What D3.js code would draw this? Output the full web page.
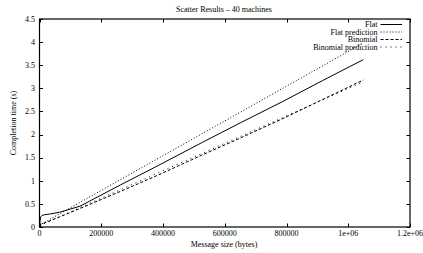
<!DOCTYPE html>
<html>
<head>
<meta charset="utf-8">
<script src="https://cdn.jsdelivr.net/npm/d3@7"></script>
<style>
html,body{margin:0;padding:0;background:#fff;}
svg{display:block;}
text{font-family:"Liberation Serif","DejaVu Serif",serif;font-size:8px;fill:#000;}
</style>
</head>
<body>
<svg id="chart" width="423" height="253"></svg>
<script>
const title = "Scatter Results – 40 machines";
const xLabel = "Message size (bytes)";
const yLabel = "Completion time (s)";
const xTicks = [0, 200000, 400000, 600000, 800000, 1000000, 1200000];
const xTickLabels = ["0", "200000", "400000", "600000", "800000", "1e+06", "1.2e+06"];
const yTicks = [0, 0.5, 1, 1.5, 2, 2.5, 3, 3.5, 4, 4.5];
const yTickLabels = ["0", "0.5", "1", "1.5", "2", "2.5", "3", "3.5", "4", "4.5"];

const sizes = [1, 2048, 4096, 8192, 16384, 32768, 65536, 131072, 262144, 393216, 524288, 655360, 786432, 917504, 1048576];
const flat = [0.02, 0.15, 0.22, 0.25, 0.265, 0.28, 0.32, 0.45, 0.91, 1.36, 1.82, 2.27, 2.71, 3.17, 3.62];
const binomial = [0.02, 0.04, 0.05, 0.07, 0.09, 0.13, 0.22, 0.40, 0.77, 1.15, 1.55, 1.94, 2.34, 2.76, 3.18];
const predSizes = [0, 1048576];
const flatPrediction = [0.04, 3.98];
const binomialPrediction = [0.03, 3.14];

const seriesNames = ["Flat", "Flat prediction", "Binomial", "Binomial prediction"];

const svg = d3.select("#chart");
const m = {left: 39.5, right: 410, top: 19, bottom: 227};
const x = d3.scaleLinear().domain([0, 1200000]).range([m.left, m.right]);
const y = d3.scaleLinear().domain([0, 4.5]).range([m.bottom, m.top]);

const styles = [
  {dash: null},
  {dash: "1,2"},
  {dash: "3,2"},
  {dash: "1,4"}
];

const series = [
  sizes.map((s, i) => [s, flat[i]]),
  predSizes.map((s, i) => [s, flatPrediction[i]]),
  sizes.map((s, i) => [s, binomial[i]]),
  predSizes.map((s, i) => [s, binomialPrediction[i]])
];

const line = d3.line().x(d => x(d[0])).y(d => y(d[1]));

series.forEach((data, i) => {
  svg.append("path")
    .attr("d", line(data))
    .attr("fill", "none")
    .attr("stroke", "#000")
    .attr("stroke-width", 1)
    .attr("stroke-dasharray", styles[i].dash);
});

// ticks (inward, mirrored)
const tl = 3.5;
const tg = svg.append("g").attr("stroke", "#000").attr("stroke-width", 1);
xTicks.forEach(t => {
  const px = Math.round(x(t)) + 0.5;
  tg.append("line").attr("x1", px).attr("x2", px).attr("y1", m.bottom).attr("y2", m.bottom - tl);
  tg.append("line").attr("x1", px).attr("x2", px).attr("y1", m.top).attr("y2", m.top + tl);
});
yTicks.forEach(t => {
  const py = Math.round(y(t)) + 0.5;
  tg.append("line").attr("x1", m.left).attr("x2", m.left + tl).attr("y1", py).attr("y2", py);
  tg.append("line").attr("x1", m.right).attr("x2", m.right - tl).attr("y1", py).attr("y2", py);
});

// border
svg.append("rect")
  .attr("x", m.left).attr("y", m.top)
  .attr("width", m.right - m.left).attr("height", m.bottom - m.top)
  .attr("fill", "none").attr("stroke", "#000").attr("stroke-width", 1.2);

// tick labels
xTicks.forEach((t, i) => {
  svg.append("text").attr("x", x(t)).attr("y", 236)
    .attr("text-anchor", "middle").text(xTickLabels[i]);
});
yTicks.forEach((t, i) => {
  svg.append("text").attr("x", 35).attr("y", y(t) + 2.8)
    .attr("text-anchor", "end").text(yTickLabels[i]);
});

// title & labels
svg.append("text").attr("x", 224).attr("y", 12).attr("text-anchor", "middle").text(title);
svg.append("text").attr("x", 224).attr("y", 247).attr("text-anchor", "middle").text(xLabel);
svg.append("text").attr("transform", "translate(16,123) rotate(-90)")
  .attr("text-anchor", "middle").text(yLabel);

// legend
const ly = [24.5, 32, 39.5, 47];
seriesNames.forEach((name, i) => {
  svg.append("text").attr("x", 377.5).attr("y", ly[i] + 2.8)
    .attr("text-anchor", "end").text(name);
  svg.append("line").attr("x1", 380.5).attr("x2", 402).attr("y1", ly[i]).attr("y2", ly[i])
    .attr("stroke", "#000").attr("stroke-width", 1)
    .attr("stroke-dasharray", styles[i].dash);
});
</script>
</body>
</html>
